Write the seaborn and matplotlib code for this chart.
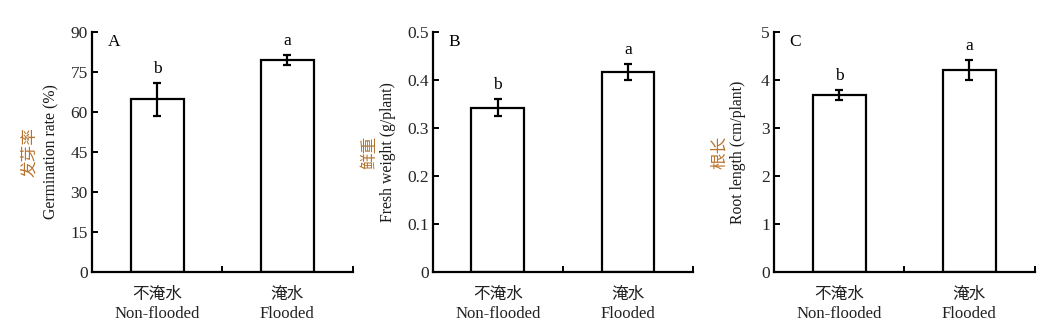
import matplotlib
matplotlib.use("Agg")
import matplotlib.pyplot as plt
import seaborn as sns
import pandas as pd

sns.set_theme(style="white")
plt.rcParams['font.family'] = ['Liberation Serif', 'Noto Sans CJK SC']
plt.rcParams['axes.unicode_minus'] = False

categories = ["不淹水\nNon-flooded", "淹水\nFlooded"]
germination = [64.7, 79.5]
germination_err = [6.3, 2.0]
fresh_weight = [0.342, 0.417]
fresh_weight_err = [0.018, 0.017]
root_length = [3.69, 4.21]
root_length_err = [0.11, 0.21]
sig_letters = [["b", "a"], ["b", "a"], ["b", "a"]]
panel_letters = ["A", "B", "C"]
cn_labels = ["发芽率", "鲜重", "根长"]
en_labels = ["Germination rate (%)", "Fresh weight (g/plant)", "Root length (cm/plant)"]
y_ticks = [[0, 15, 30, 45, 60, 75, 90], [0, 0.1, 0.2, 0.3, 0.4, 0.5], [0, 1, 2, 3, 4, 5]]
y_ticklabels = [["0", "15", "30", "45", "60", "75", "90"],
                ["0", "0.1", "0.2", "0.3", "0.4", "0.5"],
                ["0", "1", "2", "3", "4", "5"]]

values = [germination, fresh_weight, root_length]
errors = [germination_err, fresh_weight_err, root_length_err]

fig = plt.figure(figsize=(10.63, 3.34), dpi=100)
lefts = [92, 432.7, 774]
width_px = 260.5
bottom = (334 - 272) / 334
height = 240 / 334
cn_x = [-0.238, -0.241, -0.207]
en_x = [-0.154, -0.171, -0.138]

fs_tick = 12.5
fs_x = 12
fs_lab = 11.3
for i in range(3):
    ax = fig.add_axes([lefts[i] / 1063, bottom, width_px / 1063, height])
    df = pd.DataFrame({"cat": categories, "val": values[i]})
    sns.barplot(data=df, x="cat", y="val", ax=ax, color="white", edgecolor="black",
                linewidth=1.6, width=0.405, errorbar=None, saturation=1)
    ax.errorbar([0, 1], values[i], yerr=errors[i], fmt="none", ecolor="black",
                elinewidth=1.6, capsize=3.2, capthick=1.6)
    ymax = y_ticks[i][-1]
    ax.set_ylim(0, ymax)
    ax.set_xlim(-0.5, 1.5)
    ax.set_yticks(y_ticks[i])
    ax.set_yticklabels(y_ticklabels[i], fontsize=fs_tick)
    ax.set_xticks([0, 1])
    ax.set_xticklabels(categories, fontsize=fs_x, linespacing=1.2, color="#222222")
    ax.set_xticks([0.5, 1.5], minor=True)
    ax.tick_params(axis="x", which="major", length=0, pad=11)
    ax.tick_params(axis="x", which="minor", direction="in", length=4, width=1.4, color="black", bottom=True)
    ax.tick_params(axis="y", which="major", direction="in", length=4, width=1.4, color="black", left=True, pad=3)
    for s in ["top", "right"]:
        ax.spines[s].set_visible(False)
    for s in ["left", "bottom"]:
        ax.spines[s].set_linewidth(1.6)
        ax.spines[s].set_color("black")
    ax.set_xlabel("")
    ax.set_ylabel("")
    ax.grid(False)
    for j in range(2):
        ax.text(j, values[i][j] + errors[i][j] + ymax * 0.025, sig_letters[i][j],
                ha="center", va="bottom", fontsize=fs_tick, color="black")
    ax.text(0.06, 0.99, panel_letters[i], transform=ax.transAxes, ha="left", va="top",
            fontsize=fs_tick, color="black")
    ax.text(cn_x[i], 0.5, cn_labels[i], transform=ax.transAxes, rotation=90,
            ha="center", va="center", fontsize=fs_x, color="#b8722c")
    ax.text(en_x[i], 0.5, en_labels[i], transform=ax.transAxes, rotation=90,
            ha="center", va="center", fontsize=fs_lab, color="#1a1a1a")

fig.savefig("out.png", dpi=100, facecolor="white")
